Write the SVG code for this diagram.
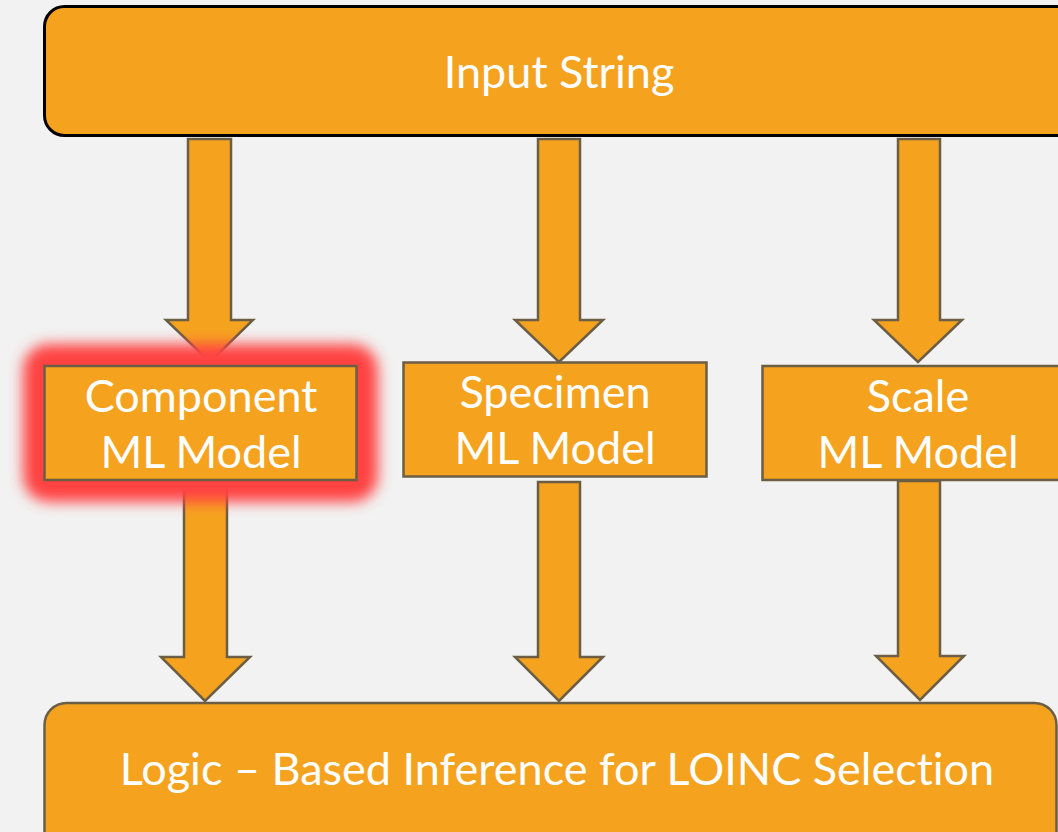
<svg xmlns="http://www.w3.org/2000/svg" width="1058" height="832" viewBox="0 0 1058 832">
  <defs>
    <filter id="glow" x="-20%" y="-30%" width="140%" height="160%">
      <feGaussianBlur stdDeviation="7"/>
    </filter>
    <style>
      .box { fill: #F5A31F; stroke: #6B5E45; stroke-width: 2.5; }
      .top { fill: #F5A31F; stroke: #000000; stroke-width: 3; }
      .arrow { fill: #F5A31F; stroke: #6B5E45; stroke-width: 2.5; stroke-linejoin: miter; }
      .label { font-family: Lato, "Open Sans", "Liberation Sans", sans-serif; font-size: 45px; fill: #FFFFFF; text-anchor: middle; font-variant-ligatures: none; }
    </style>
  </defs>

  <rect x="0" y="0" width="1058" height="832" fill="#F2F2F2"/>

  <!-- connectors: block arrows -->
  <g id="connectors">
    <polygon class="arrow" points="188,139 231,139 231,320 253,320 210,362 166,320 188,320"/>
    <polygon class="arrow" points="538,139 580,139 580,320 603,320 559,362 515,320 538,320"/>
    <polygon class="arrow" points="898,139 940,139 940,320 962,320 918,362 874,320 898,320"/>
    <polygon class="arrow" points="184,481 227,481 227,657 250,657 205,701 161,657 184,657"/>
    <polygon class="arrow" points="538,482 580,482 580,657 603,657 559,701 515,657 538,657"/>
    <polygon class="arrow" points="898,481 940,481 940,656 964,656 920,700 876,656 898,656"/>
  </g>

  <g id="input-string">
    <rect class="top" x="44.5" y="6.5" width="1040" height="129" rx="20"/>
    <text class="label" x="559" y="88">Input String</text>
  </g>

  <g id="component-model">
    <rect x="23" y="344" width="355" height="158" rx="26" fill="#FF4242" filter="url(#glow)"/>
    <rect class="box" x="44.5" y="366" width="312" height="114"/>
    <text class="label" x="201" y="412">Component</text>
    <text class="label" x="201" y="468">ML Model</text>
  </g>

  <g id="specimen-model">
    <rect class="box" x="403.5" y="362.5" width="303" height="114"/>
    <text class="label" x="555" y="408">Specimen</text>
    <text class="label" x="555" y="464">ML Model</text>
  </g>

  <g id="scale-model">
    <rect class="box" x="762.5" y="366" width="310" height="114"/>
    <text class="label" x="918" y="412">Scale</text>
    <text class="label" x="918" y="468">ML Model</text>
  </g>

  <g id="loinc-selection">
    <rect class="box" x="44.5" y="703" width="1012" height="160" rx="22"/>
    <text class="label" x="557" y="785">Logic – Based Inference for LOINC Selection</text>
  </g>
</svg>
